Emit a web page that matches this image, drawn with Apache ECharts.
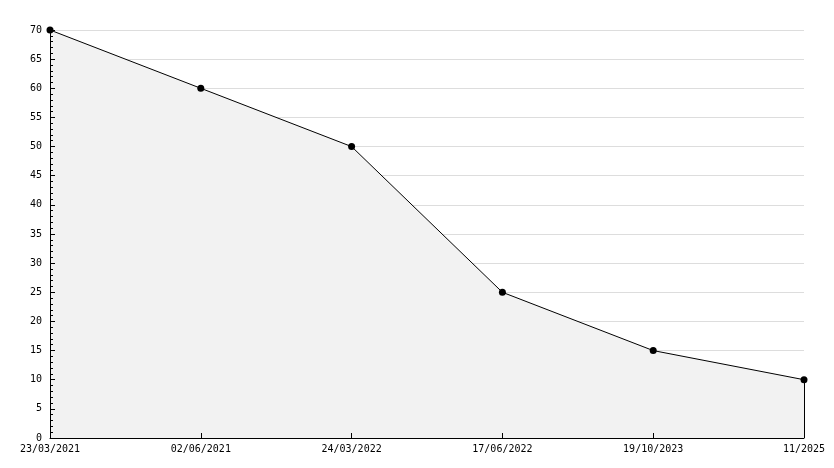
<!DOCTYPE html>
<html><head><meta charset="utf-8">
<script src="https://cdn.jsdelivr.net/npm/echarts@6/dist/echarts.min.js"></script>
<style>html,body{margin:0;padding:0;background:#fff}#c{width:834px;height:468px}</style>
</head><body><div id="c"></div>
<script>
const categories = ['23/03/2021','02/06/2021','24/03/2022','17/06/2022','19/10/2023','11/2025'];
const values = [70, 60, 50, 25, 15, 10];
const yMin = 0, yMax = 70, yStep = 5;
const font = 'DejaVu Sans Mono';
const chart = echarts.init(document.getElementById('c'), null, {renderer:'canvas'});
chart.setOption({
  animation: false,
  backgroundColor: '#ffffff',
  grid: {left: 50, right: 30, top: 30, bottom: 30, containLabel: false},
  xAxis: {
    type: 'category', data: categories, boundaryGap: false, z: 5,
    axisLine: {lineStyle: {color: '#000', width: 1}},
    axisTick: {inside: true, length: 5, lineStyle: {color: '#000'}, alignWithLabel: true},
    axisLabel: {color: '#000', fontFamily: font, fontSize: 10, margin: 6, showMinLabel: true, showMaxLabel: true, interval: 0},
    splitLine: {show: false}
  },
  yAxis: [{
    type: 'value', min: yMin, max: yMax, interval: yStep, z: 0,
    axisLine: {show: false},
    axisTick: {show: false},
    axisLabel: {color: '#000', fontFamily: font, fontSize: 10, margin: 8},
    splitLine: {show: true, lineStyle: {color: '#dddddd', width: 1}}
  }, {
    type: 'value', min: yMin, max: yMax, interval: yStep, position: 'left', z: 5,
    axisLine: {show: true, lineStyle: {color: '#000', width: 1}},
    axisTick: {show: true, inside: true, length: 5, lineStyle: {color: '#000'}},
    minorTick: {show: true, splitNumber: 5, length: 3, lineStyle: {color: '#000'}},
    axisLabel: {show: false},
    splitLine: {show: false}
  }],
  series: [{
    type: 'line', data: values, yAxisIndex: 0,
    symbol: 'circle', symbolSize: 7,
    itemStyle: {color: '#000'},
    lineStyle: {color: '#000', width: 1},
    areaStyle: {color: '#f2f2f2', opacity: 1},
    markLine: {
      silent: true, symbol: 'none', label: {show: false},
      lineStyle: {color: '#000', width: 1, type: 'solid'},
      data: [[{coord: [categories.length - 1, yMin]}, {coord: [categories.length - 1, values[values.length - 1]]}]]
    }
  }]
});
</script></body></html>
